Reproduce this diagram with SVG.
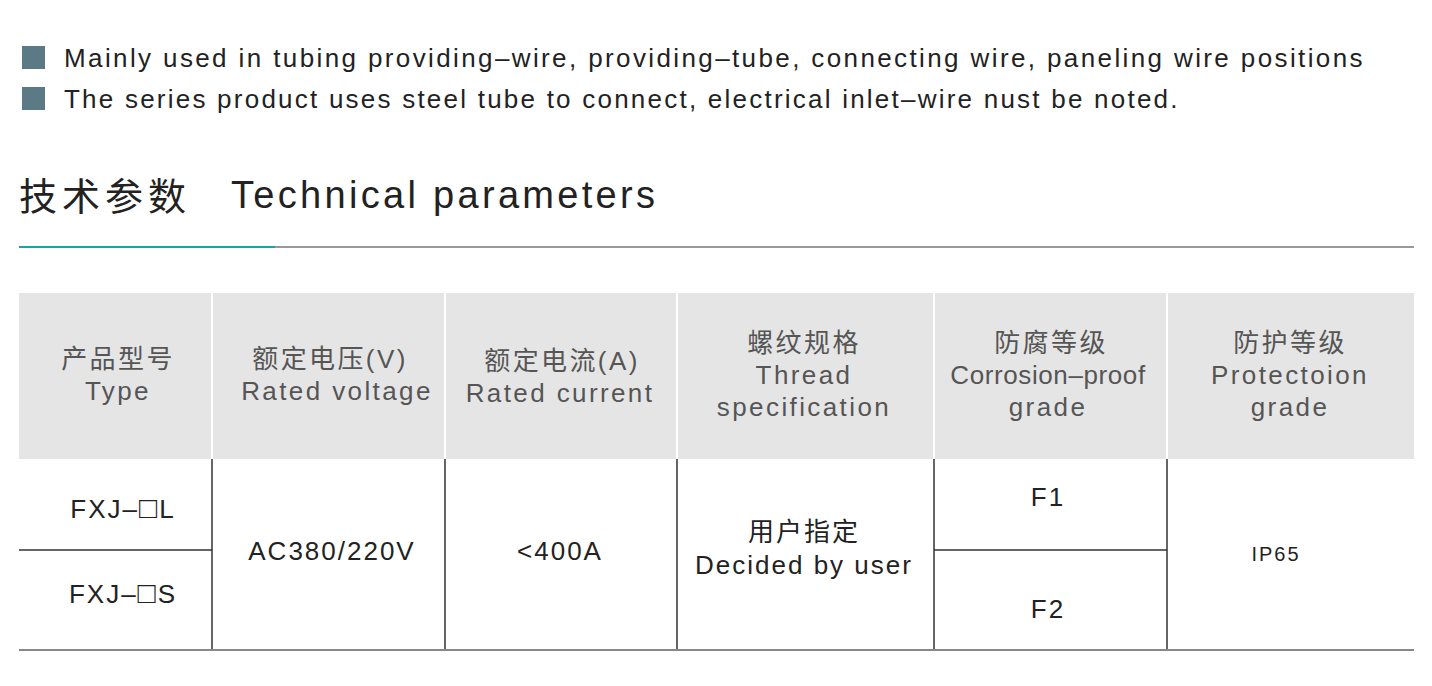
<svg xmlns="http://www.w3.org/2000/svg" width="1432" height="686" viewBox="0 0 1432 686">
<style>
text{font-family:"Liberation Sans","Noto Sans CJK SC",sans-serif;fill:#222}
.b{font-size:26px;letter-spacing:2.5px}
.h{font-size:26px;fill:#555;text-anchor:middle;letter-spacing:2.4px}
.c{font-size:26px;text-anchor:middle;letter-spacing:2px}
.v{stroke:#333;stroke-width:1.5}
</style>
<rect width="1432" height="686" fill="#fff"/>
<rect x="22" y="46" width="23" height="23" fill="#5c7a86"/>
<rect x="22" y="87" width="23" height="23" fill="#5c7a86"/>
<text class="b" x="64" y="67" textLength="1301">Mainly used in tubing providing–wire, providing–tube, connecting wire, paneling wire positions</text>
<text class="b" x="64" y="108" textLength="1116">The series product uses steel tube to connect, electrical inlet–wire nust be noted.</text>
<text x="19" y="210" style="font-size:38px;letter-spacing:5px">技术参数</text>
<text x="231" y="208" style="font-size:38px;letter-spacing:3px" textLength="427">Technical parameters</text>
<rect x="275" y="246" width="1139" height="2" fill="#999"/>
<rect x="19" y="246" width="256" height="2" fill="#1aa5a5"/>
<rect x="19" y="293" width="1395" height="166" fill="#e5e5e5"/>
<g stroke="#fff" stroke-width="2">
<line x1="212" y1="293" x2="212" y2="459"/><line x1="445" y1="293" x2="445" y2="459"/><line x1="677" y1="293" x2="677" y2="459"/><line x1="934" y1="293" x2="934" y2="459"/><line x1="1167" y1="293" x2="1167" y2="459"/>
</g>
<g class="v">
<line x1="212" y1="459" x2="212" y2="650"/><line x1="445" y1="459" x2="445" y2="650"/><line x1="677" y1="459" x2="677" y2="650"/><line x1="934" y1="459" x2="934" y2="650"/><line x1="1167" y1="459" x2="1167" y2="650"/>
<line x1="19" y1="550" x2="212" y2="550"/><line x1="934" y1="550" x2="1167" y2="550"/>
</g>
<line x1="19" y1="650" x2="1414" y2="650" stroke="#888" stroke-width="2"/>
<text class="h" x="118" y="368">产品型号</text><text class="h" x="118" y="400">Type</text>
<text class="h" x="330" y="368">额定电压(V)</text><text class="h" x="337" y="400">Rated voltage</text>
<text class="h" x="562" y="370">额定电流(A)</text><text class="h" x="560" y="402">Rated current</text>
<text class="h" x="804" y="352">螺纹规格</text><text class="h" x="804" y="384">Thread</text><text class="h" x="804" y="416">specification</text>
<text class="h" x="1051" y="352">防腐等级</text><text class="h" x="1048" y="384" style="letter-spacing:0.6px">Corrosion–proof</text><text class="h" x="1048" y="416">grade</text>
<text class="h" x="1290" y="352">防护等级</text><text class="h" x="1290" y="384">Protectoion</text><text class="h" x="1290" y="416">grade</text>
<text class="c" x="123" y="518">FXJ–<tspan font-size="30">□</tspan>L</text>
<text class="c" x="123" y="603">FXJ–<tspan font-size="30">□</tspan>S</text>
<text class="c" x="332" y="560">AC380/220V</text>
<text class="c" x="560" y="560">&lt;400A</text>
<text class="c" x="804" y="541">用户指定</text>
<text class="c" x="804" y="574">Decided by user</text>
<text class="c" x="1048" y="506">F1</text>
<text class="c" x="1048" y="618">F2</text>
<text class="c" x="1276" y="561" style="font-size:20px">IP65</text>
</svg>
